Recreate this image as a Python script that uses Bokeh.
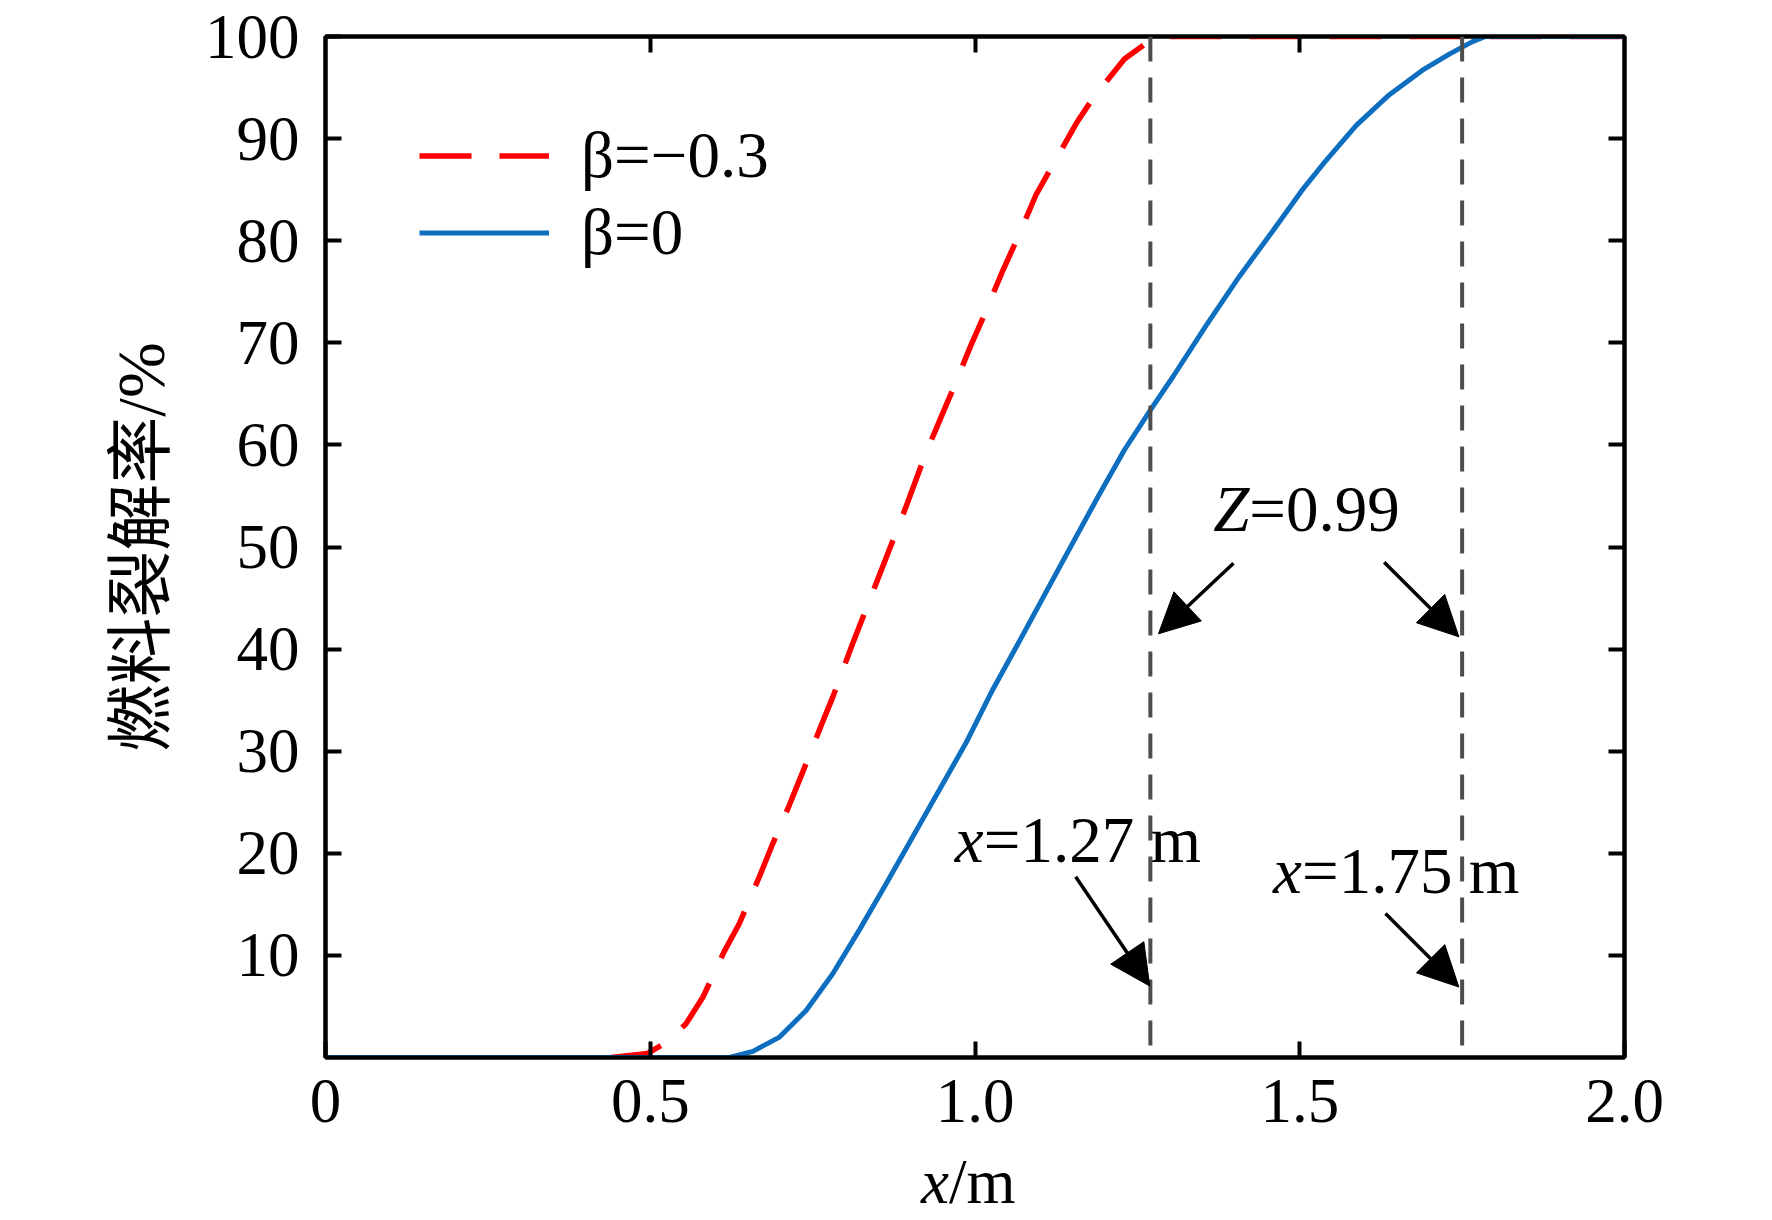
from bokeh.plotting import figure
from bokeh.layouts import column
from bokeh.models import (ColumnDataSource, Span, Arrow, NormalHead, Legend, Div,
                          LegendItem, LinearAxis, FixedTicker, CustomJSTickFormatter, Range1d)
from bokeh.core.properties import value
from bokeh.embed import file_html
from bokeh.resources import INLINE

# ---------------- data ----------------
red_x = [0.44, 0.496, 0.525, 0.555, 0.581, 0.614, 0.637, 0.668, 0.689, 0.714, 0.735, 0.763,
         0.781, 0.809, 0.85, 0.89, 0.925, 0.945, 0.963, 0.994, 1.012, 1.043, 1.063, 1.094,
         1.117, 1.156, 1.181, 1.230, 1.269, 1.30, 2.0]
red_y = [0.0, 0.4, 1.5, 3.3, 5.9, 10.4, 13.1, 17.7, 21.0, 24.7, 28.0, 32.5,
         35.3, 40.1, 46.8, 53.3, 59.3, 62.3, 65.0, 69.8, 72.4, 77.1, 79.9, 84.5,
         87.1, 91.5, 93.9, 97.8, 99.6, 100.0, 100.0]

blue_x = [0.0, 0.622, 0.658, 0.699, 0.740, 0.781, 0.822, 0.863, 0.904, 0.945, 0.986, 1.027,
          1.066, 1.13, 1.19, 1.23, 1.27, 1.305, 1.356, 1.407, 1.459, 1.503, 1.541, 1.587,
          1.638, 1.689, 1.731, 1.766, 1.786, 2.0]
blue_y = [0.0, 0.0, 0.6, 2.0, 4.6, 8.2, 12.5, 17.0, 21.6, 26.2, 30.8, 36.0,
          40.5, 48.0, 55.0, 59.5, 63.4, 66.7, 71.7, 76.5, 81.0, 84.9, 87.9, 91.3,
          94.3, 96.7, 98.3, 99.5, 100.0, 100.0]

series_labels = ["\u03b2=\u22120.3", "\u03b2=0"]
z_lines = [1.27, 1.75]

x_ticks = [0, 0.5, 1.0, 1.5, 2.0]
x_tick_labels = ["0", "0.5", "1.0", "1.5", "2.0"]
y_ticks = [10, 20, 30, 40, 50, 60, 70, 80, 90, 100]

# annotation texts (italic part + upright part)
ann_italic = ["Z", "x", "x"]
ann_rest = ["=0.99", "=1.27 m", "=1.75 m"]
ann_x = [1.367, 0.969, 1.459]
ann_y = [53.7, 21.3, 18.3]
ann_dx = [36, 29, 29]

# arrows
arr_x0 = [1.398, 1.630, 1.155, 1.632]
arr_y0 = [48.4, 48.5, 17.7, 14.1]
arr_x1 = [1.2825, 1.745, 1.269, 1.745]
arr_y1 = [41.5, 41.2, 7.0, 6.9]

SERIF = "Liberation Serif"
FS = "65px"

p = figure(width=1756, height=1151, x_range=Range1d(0, 2), y_range=Range1d(0, 100),
           output_backend="svg", toolbar_location=None,
           min_border_left=325, min_border_right=132, min_border_top=36, min_border_bottom=94)
p.grid.visible = False
p.outline_line_color = "black"
p.outline_line_width = 4
p.background_fill_color = "white"
p.border_fill_color = "white"

# curves
r_red = p.line(red_x, red_y, line_color="#FF0000", line_width=5.5, line_dash="52 28")
r_blue = p.line(blue_x, blue_y, line_color="#0E6FC0", line_width=5)

# vertical dashed lines
for xv in z_lines:
    p.add_layout(Span(location=xv, dimension="height", line_color="#4d4d4d",
                      line_width=4, line_dash="25 16"))

# axes styling
def style_axis(ax, ticks, show_labels):
    ax.ticker = FixedTicker(ticks=ticks)
    ax.axis_line_width = 4
    ax.axis_line_color = "black"
    ax.major_tick_line_width = 4
    ax.major_tick_in = 16
    ax.major_tick_out = 0
    ax.minor_tick_line_color = None
    if show_labels:
        ax.major_label_text_font = SERIF
        ax.major_label_text_font_size = "63px"
        ax.major_label_text_color = "black"
    else:
        ax.formatter = CustomJSTickFormatter(code="return ''")
        ax.major_label_text_font_size = "0px"
        ax.major_label_standoff = 0

xa = p.xaxis[0]
style_axis(xa, x_ticks, True)
xa.major_label_overrides = {t: l for t, l in zip(x_ticks, x_tick_labels)}
xa.major_label_standoff = 22

ya = p.yaxis[0]
style_axis(ya, y_ticks, True)
ya.major_label_standoff = 26
ya.axis_label = "燃料裂解率/%"
ya.axis_label_text_font = "Liberation Serif, Noto Sans CJK SC"
ya.axis_label_text_font_style = "normal"
ya.axis_label_text_font_size = "67px"
ya.axis_label_text_color = "black"
ya.axis_label_standoff = 24

top_ax = LinearAxis()
style_axis(top_ax, [0.5, 1.0, 1.5], False)
p.add_layout(top_ax, "above")
right_ax = LinearAxis()
style_axis(right_ax, [10, 20, 30, 40, 50, 60, 70, 80, 90], False)
p.add_layout(right_ax, "right")

# annotations
src_ann = ColumnDataSource(dict(x=ann_x, y=ann_y, it=ann_italic, rest=ann_rest, dx=ann_dx))
p.text(x="x", y="y", text="it", source=src_ann, text_font=value(SERIF),
       text_font_style="italic", text_font_size=FS, text_baseline="alphabetic",
       text_align="left", text_color="black")
p.text(x="x", y="y", text="rest", source=src_ann, text_font=value(SERIF),
       text_font_style="normal", text_font_size=FS, text_baseline="alphabetic",
       text_align="left", text_color="black", x_offset="dx")

src_arr = ColumnDataSource(dict(x0=arr_x0, y0=arr_y0, x1=arr_x1, y1=arr_y1))
p.add_layout(Arrow(end=NormalHead(size=40, fill_color="black", line_color="black", line_width=1),
                   source=src_arr, x_start="x0", y_start="y0", x_end="x1", y_end="y1",
                   line_width=3.5, line_color="black"))

# legend
legend = Legend(items=[LegendItem(label=series_labels[0], renderers=[r_red]),
                       LegendItem(label=series_labels[1], renderers=[r_blue])],
                location=(94, 786), padding=0, margin=0, spacing=0,
                glyph_width=130, glyph_height=77, label_height=77, label_standoff=32,
                label_text_font=SERIF, label_text_font_size="65px", label_text_color="black",
                border_line_color=None, background_fill_alpha=0)
p.add_layout(legend)

# x-axis title (italic x + upright /m) as real text below the plot
xlabel = Div(text='<span style="font-style:italic">x</span>/m', width=1756, height=60,
             styles={"font-family": "'Liberation Serif'", "font-size": "63px",
                     "line-height": "62px", "padding-left": "921px", "color": "black",
                     "margin": "0px"})

layout = column(p, xlabel, spacing=0)
open("out.html", "w").write(file_html(layout, INLINE))
